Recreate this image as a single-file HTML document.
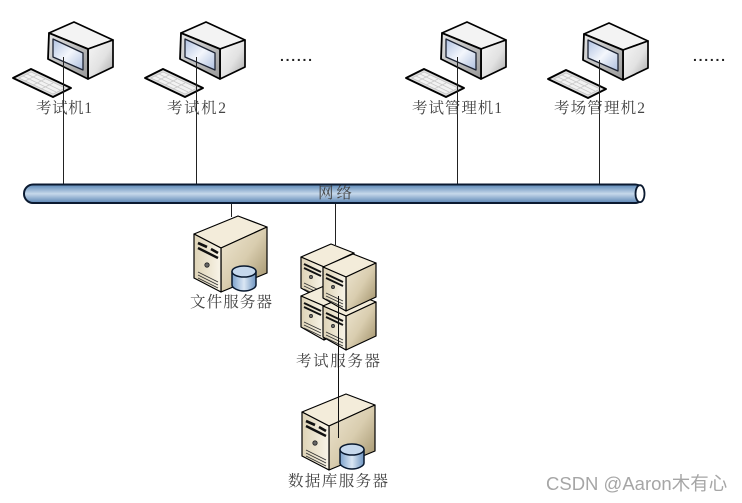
<!DOCTYPE html>
<html><head><meta charset="utf-8"><style>
html,body{margin:0;padding:0;background:#fff}
svg{display:block}
.l{font-family:"Liberation Serif","Noto Serif CJK SC",serif;font-size:15.5px;fill:#444}
</style></head><body>
<svg width="742" height="503" viewBox="0 0 742 503" xmlns="http://www.w3.org/2000/svg">
<defs>
<linearGradient id="scr" x1="0" y1="0" x2="1" y2="1"><stop offset="0" stop-color="#b0c2e2"/><stop offset=".5" stop-color="#f4f7fc"/><stop offset="1" stop-color="#aebfdf"/></linearGradient>
<linearGradient id="side" x1="0" y1="0" x2="1" y2="1"><stop offset="0" stop-color="#f7f7f7"/><stop offset=".55" stop-color="#e2e2e2"/><stop offset="1" stop-color="#a4a4a4"/></linearGradient>
<linearGradient id="bez" x1="0" y1="0" x2="1" y2="1"><stop offset="0" stop-color="#e6e6e6"/><stop offset="1" stop-color="#989898"/></linearGradient>
<linearGradient id="pipe" x1="0" y1="0" x2="0" y2="1"><stop offset="0" stop-color="#5a86b6"/><stop offset=".5" stop-color="#c6d8ea"/><stop offset="1" stop-color="#5a84b4"/></linearGradient>
<linearGradient id="sv" x1="0" y1="0" x2="1" y2="1"><stop offset="0" stop-color="#efe7d3"/><stop offset=".5" stop-color="#d9cdaf"/><stop offset="1" stop-color="#9a8a62"/></linearGradient>
<linearGradient id="sf" x1="0" y1="0" x2="1" y2="0"><stop offset="0" stop-color="#ded3b6"/><stop offset="1" stop-color="#f8f4e8"/></linearGradient>
<linearGradient id="cy" x1="0" y1="0" x2="1" y2="0"><stop offset="0" stop-color="#7ca2cc"/><stop offset=".5" stop-color="#dbe7f4"/><stop offset="1" stop-color="#6d94c0"/></linearGradient>

<g id="pc" stroke-linejoin="round">
<path d="M49 33L74 22L113 40L88 49Z" fill="#f3f3f3" stroke="#000" stroke-width="1.700"/>
<path d="M88 49L113 40L113 67L88 79Z" fill="url(#side)" stroke="#000" stroke-width="1.700"/>
<path d="M49 33L88 49L88 79L48 59Z" fill="url(#bez)" stroke="#000" stroke-width="1.800"/>
<path d="M53 39L83 53L83 70L53 57Z" fill="url(#scr)" stroke="#1c2333" stroke-width="1.300"/>
<path d="M31 69L13 78L53 97L71 88Z" fill="#dedede" stroke="#000" stroke-width="1.900"/>
<path d="M31 72L19 78L53 94L65 88Z" fill="#f2f2f2" stroke="#bbb" stroke-width=".6"/>
<path d="M27 74L60 90M23 76L56 92M37 75L25 81M45 79L33 85M53 83L41 89" stroke="#c8c8c8" stroke-width=".7" fill="none"/>
</g>

<g id="cyl">
<path d="M232 272V285C232 288 238 291 244 291C250 291 256 288 256 285V272Z" fill="url(#cy)" stroke="#08182e" stroke-width="1.500"/>
<ellipse cx="244" cy="271.500" rx="12" ry="5.500" fill="#c6d8ec" stroke="#08182e" stroke-width="1.500"/>
</g>

<g id="srv" stroke-linejoin="round">
<path d="M194 234L238 216L267 227L221 248Z" fill="#f3ecda" stroke="#000" stroke-width="1.200"/>
<path d="M221 248L267 227V273L221 292Z" fill="url(#sv)" stroke="#000" stroke-width="1.200"/>
<path d="M194 234L221 248V292L194 278Z" fill="url(#sf)" stroke="#000" stroke-width="1.200"/>
<path d="M198 243L207 247M211 249L218 253" stroke="#111" stroke-width="2.600"/>
<path d="M198 248L218 258" stroke="#111" stroke-width="2.400"/>
<circle cx="207" cy="265" r="2.200" fill="#666" stroke="#222" stroke-width=".8"/>
<path d="M198 272L218 282M198 275L218 285M198 278L218 288" stroke="#333" stroke-width=".9"/>
</g>

<g id="mini" stroke-linejoin="round">
<path d="M0 0L30 -13L53 -4L23 10Z" fill="#f3ecda" stroke="#000" stroke-width="1.200"/>
<path d="M23 10L53 -4V30L23 44Z" fill="url(#sv)" stroke="#000" stroke-width="1.200"/>
<path d="M0 0L23 10V44L0 31Z" fill="url(#sf)" stroke="#000" stroke-width="1.200"/>
<path d="M3 7L20 15" stroke="#111" stroke-width="2"/>
<path d="M3 11L20 19" stroke="#111" stroke-width="1.800"/>
<circle cx="10" cy="20" r="1.600" fill="#666" stroke="#222" stroke-width=".7"/>
<path d="M3 26L20 34M3 29L20 37M3 32L20 40" stroke="#333" stroke-width=".8"/>
</g>
</defs>

<use href="#pc"/>
<use href="#pc" x="132"/>
<use href="#pc" x="393"/>
<use href="#pc" x="535" y="1"/>

<g stroke="#222" stroke-width="1" fill="none">
<path d="M63.500 57V184M196.500 57V184M457.500 57V184M599.500 60V184M231.500 203V217M335.500 203V245"/>
</g>

<text class="l" x="36" y="113" textLength="56">考试机1</text>
<text class="l" x="167" y="113" textLength="59">考试机2</text>
<text class="l" x="412" y="113" textLength="90">考试管理机1</text>
<text class="l" x="554" y="113" textLength="91">考场管理机2</text>
<text font-family="Liberation Sans, sans-serif" font-size="14" font-weight="bold" fill="#222" x="280" y="61" textLength="32">......</text>
<text font-family="Liberation Sans, sans-serif" font-size="14" font-weight="bold" fill="#222" x="693" y="61" textLength="32">......</text>

<rect x="24" y="184.500" width="620" height="18.500" rx="9" ry="9.250" fill="url(#pipe)" stroke="#0b1a30" stroke-width="2"/>
<ellipse cx="640" cy="193.700" rx="4.500" ry="8.500" fill="#fff" stroke="#0b1a30" stroke-width="1.800"/>
<text class="l" x="318" y="198" textLength="34">网络</text>

<use href="#srv"/>
<use href="#cyl"/>
<text class="l" x="190" y="307" textLength="82">文件服务器</text>

<use href="#mini" x="301" y="257"/>
<use href="#mini" x="301" y="296"/>
<use href="#mini" x="323" y="306"/>
<use href="#mini" x="323" y="267"/>
<text class="l" x="296" y="366" textLength="84">考试服务器</text>

<use href="#srv" x="108" y="178"/>
<use href="#cyl" x="108" y="178"/>
<path d="M338.500 296V438" stroke="#111" stroke-width="1" fill="none"/>
<text class="l" x="288" y="486" textLength="100">数据库服务器</text>

<text x="546" y="490" font-family="Liberation Sans,'Noto Sans CJK SC',sans-serif" font-size="18.500" fill="#a6a6a6">CSDN @Aaron木有心</text>
</svg>
</body></html>
